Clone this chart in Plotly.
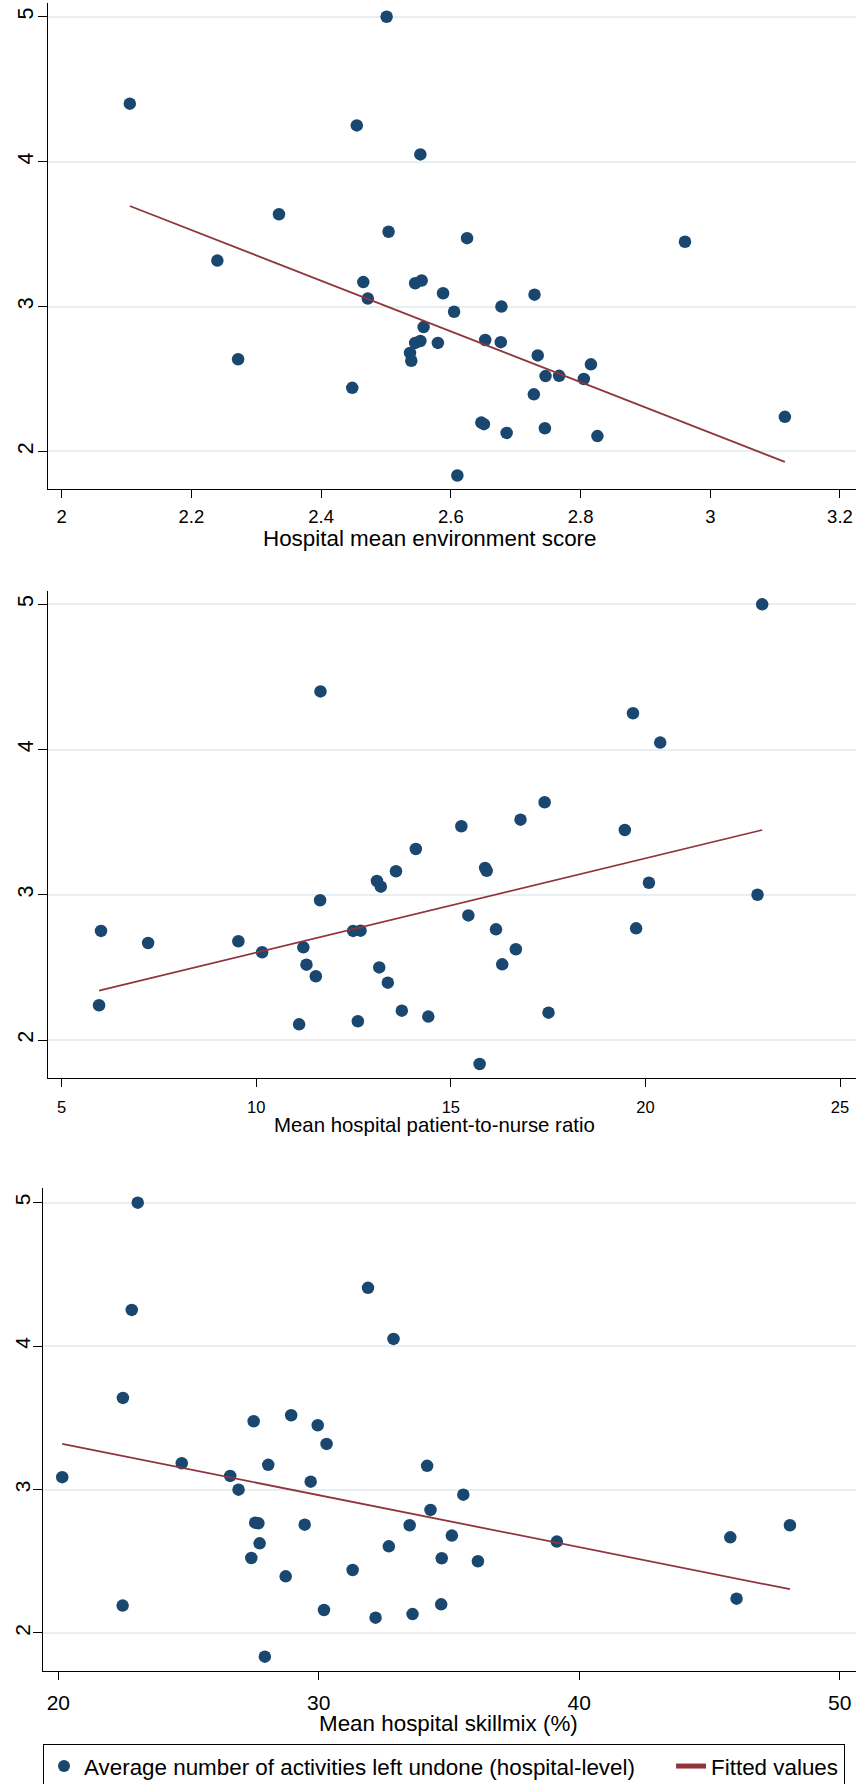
import plotly.graph_objects as go

# ---------------- data ----------------
env_x = [2.501, 2.105, 2.455, 2.553, 2.335, 2.504, 2.240, 2.272, 2.465, 2.472,
         2.545, 2.555, 2.558, 2.545, 2.553, 2.537, 2.539, 2.448, 2.625, 2.961,
         2.588, 2.729, 2.605, 2.678, 2.653, 2.580, 2.677, 2.734, 2.816, 2.746,
         2.767, 2.805, 2.728, 2.647, 2.651, 2.686, 2.745, 2.826, 2.610, 3.115]
env_y = [5.000, 4.400, 4.250, 4.050, 3.637, 3.516, 3.317, 2.636, 3.169, 3.055,
         3.161, 3.180, 2.858, 2.749, 2.762, 2.680, 2.626, 2.439, 3.472, 3.447,
         3.092, 3.082, 2.964, 3.000, 2.769, 2.749, 2.754, 2.663, 2.601, 2.520,
         2.522, 2.500, 2.394, 2.199, 2.188, 2.128, 2.160, 2.106, 1.834, 2.239]
env_fit_x = [2.105, 3.115]
env_fit_y = [3.694, 1.928]

ratio_x = [11.65, 6.01, 5.96, 7.22, 9.54, 10.15, 11.21, 11.29, 11.53, 11.64,
           11.10, 12.49, 12.68, 12.61, 13.10, 13.20, 13.59, 14.10, 13.16, 13.38,
           13.74, 14.42, 23.00, 19.68, 20.38, 17.41, 16.79, 15.27, 19.47, 15.88,
           15.92, 20.09, 22.88, 15.45, 16.16, 19.76, 16.67, 16.32, 17.51, 15.74]
ratio_y = [4.400, 2.751, 2.239, 2.668, 2.680, 2.604, 2.638, 2.519, 2.439, 2.962,
           2.108, 2.751, 2.753, 2.129, 3.095, 3.056, 3.162, 3.315, 2.500, 2.395,
           2.202, 2.161, 5.000, 4.250, 4.048, 3.637, 3.517, 3.472, 3.446, 3.185,
           3.165, 3.083, 3.000, 2.858, 2.762, 2.769, 2.625, 2.521, 2.188, 1.835]
ratio_fit_x = [5.96, 23.00]
ratio_fit_y = [2.340, 3.446]

skill_x = [23.05, 22.82, 31.89, 32.87, 22.48, 27.50, 28.94, 29.96, 30.30, 24.74,
           28.06, 34.16, 20.15, 26.60, 26.92, 29.69, 34.29, 27.56, 27.68, 29.46,
           33.49, 27.73, 32.69, 27.41, 28.73, 31.30, 22.47, 30.20, 32.18, 33.60,
           27.93, 35.55, 35.11, 34.72, 36.11, 34.70, 39.14, 45.80, 48.09, 46.04]
skill_y = [5.000, 4.252, 4.406, 4.050, 3.639, 3.476, 3.518, 3.448, 3.318, 3.183,
           3.172, 3.165, 3.086, 3.095, 2.999, 3.055, 2.858, 2.769, 2.765, 2.755,
           2.751, 2.625, 2.604, 2.523, 2.395, 2.439, 2.191, 2.160, 2.107, 2.132,
           1.835, 2.964, 2.679, 2.521, 2.500, 2.200, 2.637, 2.667, 2.751, 2.239]
skill_fit_x = [20.15, 48.09]
skill_fit_y = [3.318, 2.305]

env_ticks = [2, 2.2, 2.4, 2.6, 2.8, 3, 3.2]
env_ticktext = ["2", "2.2", "2.4", "2.6", "2.8", "3", "3.2"]
ratio_ticks = [5, 10, 15, 20, 25]
skill_ticks = [20, 30, 40, 50]
y_ticks = [2, 3, 4, 5]

x_titles = ["Hospital mean environment score",
            "Mean hospital patient-to-nurse ratio",
            "Mean hospital skillmix (%)"]
scatter_name = "Average number of activities left undone (hospital-level)"
fit_name = "Fitted values"

# ---------------- styling ----------------
W = 856
VIEW_H = 1784          # visible page height
H = 1800               # figure is a bit taller so the legend box runs off the bottom, as in the reference
FONT = "Liberation Sans, Arial, Helvetica, sans-serif"
NAVY = "#1a476f"
MAROON = "#90353b"
GRID = "#e8eff2"

fig = go.Figure()

panels = [
    (env_x, env_y, env_fit_x, env_fit_y, "x", "y"),
    (ratio_x, ratio_y, ratio_fit_x, ratio_fit_y, "x2", "y2"),
    (skill_x, skill_y, skill_fit_x, skill_fit_y, "x3", "y3"),
]
for i, (sx, sy, fx, fy, xa, ya) in enumerate(panels):
    fig.add_trace(go.Scatter(x=sx, y=sy, mode="markers",
                             name=scatter_name + "\u00a0" * 5,
                             marker=dict(color=NAVY, size=12.5),
                             xaxis=xa, yaxis=ya, showlegend=(i == 0),
                             legendrank=1))
    fig.add_trace(go.Scatter(x=fx, y=fy, mode="lines", name=fit_name,
                             line=dict(color=MAROON, width=1.8),
                             xaxis=xa, yaxis=ya, showlegend=(i == 0),
                             legendrank=2))


def px_dom_x(left_px):
    return [left_px / W, 1.0]


def px_dom_y(top_px, bottom_px):
    return [1 - bottom_px / H, 1 - top_px / H]


def xaxis(dom, rng, tv, tt, fs, anchor, standoff):
    return dict(domain=dom, range=rng, tickvals=tv, ticktext=tt, anchor=anchor,
                showgrid=False, zeroline=False, showline=True,
                linecolor="black", linewidth=1.3, ticks="outside",
                ticklen=8, tickwidth=1.3, tickcolor="black",
                ticklabelstandoff=standoff,
                tickfont=dict(size=fs, color="black", family=FONT),
                automargin=False, fixedrange=True)


def yaxis(dom, rng, fs, anchor, standoff):
    return dict(domain=dom, range=rng, tickvals=y_ticks,
                ticktext=[str(v) for v in y_ticks], anchor=anchor,
                tickangle=-90, showgrid=True, gridcolor=GRID, gridwidth=1.5,
                zeroline=False, showline=True, linecolor="black",
                linewidth=1.3, ticks="outside", ticklen=9, tickwidth=1.3,
                tickcolor="black", ticklabelstandoff=standoff,
                tickfont=dict(size=fs, color="black", family=FONT),
                automargin=False, fixedrange=True)


fig.update_layout(
    width=W, height=H,
    margin=dict(l=0, r=0, t=0, b=0, pad=0),
    paper_bgcolor="white", plot_bgcolor="white",
    font=dict(family=FONT, color="black"),
    xaxis=xaxis(px_dom_x(47.7), [1.9784, 3.2247], env_ticks, env_ticktext, 18.5, "y", 2),
    yaxis=yaxis(px_dom_y(3, 489.3), [1.7387, 5.095], 21.5, "x", -4),
    xaxis2=xaxis(px_dom_x(47.7), [4.640, 25.411], ratio_ticks,
                 [str(v) for v in ratio_ticks], 16.5, "y2", 6),
    yaxis2=yaxis(px_dom_y(591, 1078.3), [1.7363, 5.0916], 21.5, "x2", -4),
    xaxis3=xaxis(px_dom_x(43.3), [19.424, 50.626], skill_ticks,
                 [str(v) for v in skill_ticks], 21, "y3", 5),
    yaxis3=yaxis(px_dom_y(1188.3, 1671), [1.735, 5.100], 21, "x3", -5),
    showlegend=True,
    legend=dict(orientation="h", x=43 / W, xanchor="left",
                y=1 - 1744 / H, yanchor="top",
                bordercolor="black", borderwidth=1, bgcolor="white",
                font=dict(size=22.4, color="black", family=FONT),
                itemsizing="constant", traceorder="normal"),
)

title_pos = [(430, 539, 22.4), (434.5, 1125, 20.4), (448.5, 1723, 22.4)]
for txt, (cx, cy, fs) in zip(x_titles, title_pos):
    fig.add_annotation(text=txt, xref="paper", yref="paper",
                       x=cx / W, y=1 - cy / H, xanchor="center", yanchor="middle",
                       showarrow=False,
                       font=dict(size=fs, color="black", family=FONT))

fig.write_html(
    "out.html",
    config={"displayModeBar": False},
    post_script=(
        "document.documentElement.style.margin='0';"
        "document.body.style.margin='0';"
        "document.body.style.overflow='hidden';"
        "var gd=document.getElementById('{plot_id}');"
        "var p=gd.parentElement;"
        "p.style.height='" + str(VIEW_H) + "px';"
        "p.style.overflow='hidden';"
    ),
)
